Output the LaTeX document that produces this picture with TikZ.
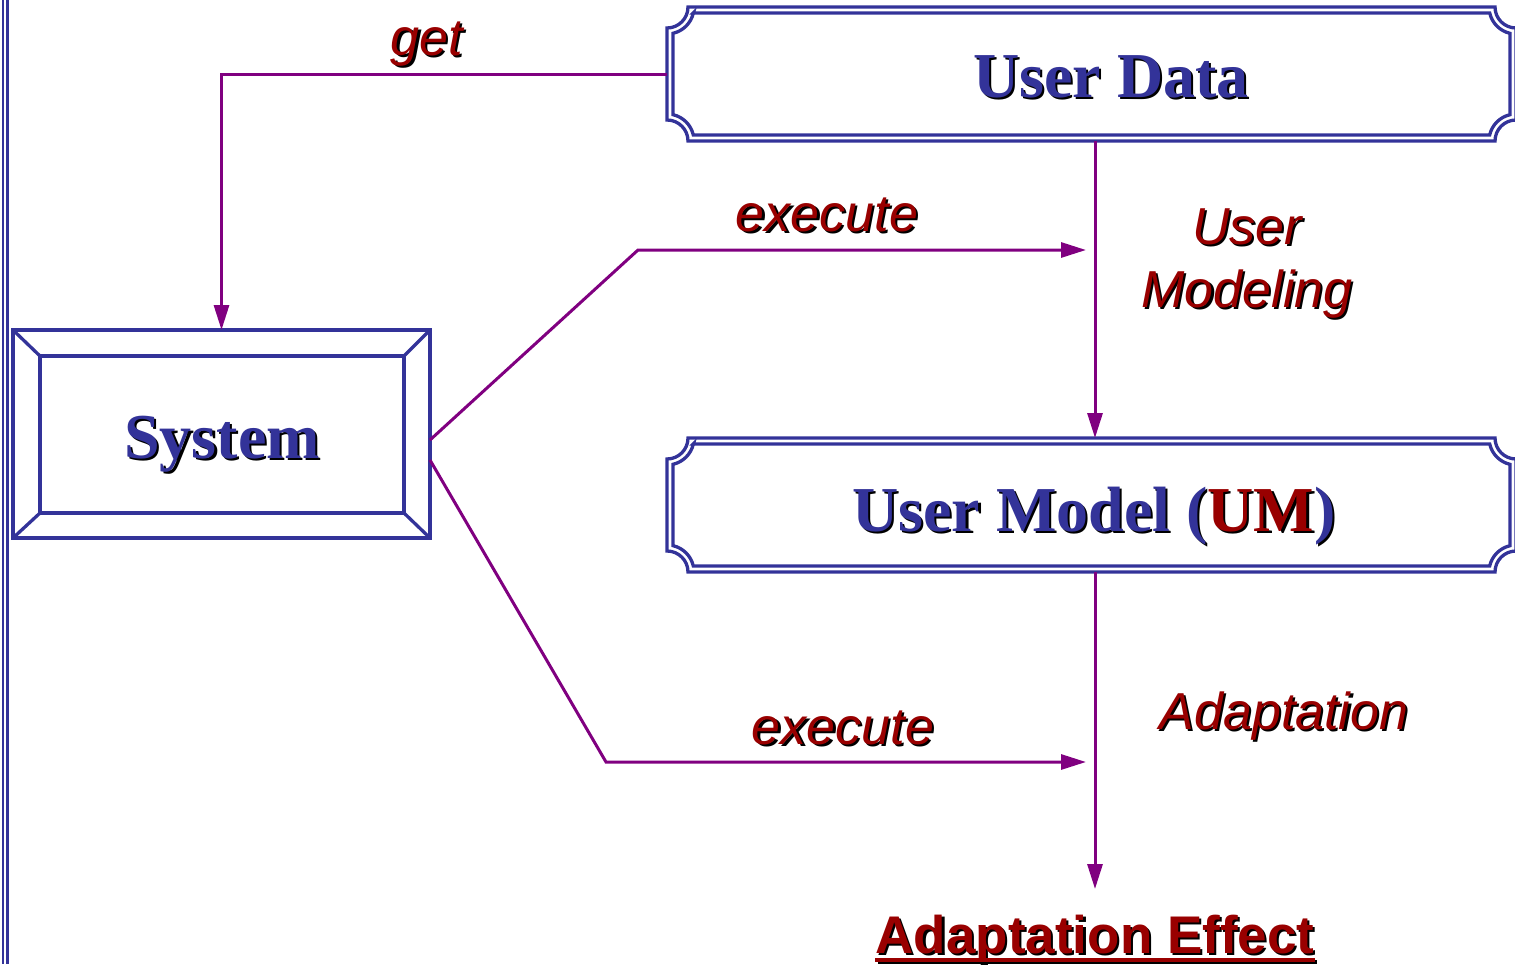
\documentclass[tikz,border=0pt]{standalone}
\usepackage{fontspec}
\newfontfamily\timesf{Liberation Serif}
\newfontfamily\arialf{Liberation Sans}
\usetikzlibrary{calc,arrows.meta}

\definecolor{ublue}{HTML}{333399}
\definecolor{ared}{HTML}{990000}
\definecolor{upurple}{HTML}{800080}

% red part of a title (kept black in the drop shadow)
\newcommand\redpart[1]{\textcolor{ared}{#1}}

% text with a black drop shadow: #1 style, #2 position, #3 name, #4 text
\newcommand\shadowed[4]{%
  \node[#1, text=black] at ($(#2)+(2.2,2.2)$) {\def\redpart##1{##1}#4};
  \node[#1] (#3) at (#2) {#4};}

% double frame with concave quarter-circle corners around node #1
\newcommand\notchframe[1]{%
  \draw[frame] ($(#1.north west)+(21,0)$) -- ($(#1.north east)+(-21,0)$)
    arc[start angle=180,end angle=90,radius=21]
    -- ($(#1.south east)+(0,-21)$)
    arc[start angle=270,end angle=180,radius=21]
    -- ($(#1.south west)+(21,0)$)
    arc[start angle=0,end angle=-90,radius=21]
    -- ($(#1.north west)+(0,21)$)
    arc[start angle=90,end angle=0,radius=21] -- cycle;
  \draw[frame] ($(#1.north west)+(26.3,6)$) -- ($(#1.north east)+(-26.3,6)$)
    arc[start angle=167.2,end angle=102.8,radius=27]
    -- ($(#1.south east)+(-6,-26.3)$)
    arc[start angle=257.2,end angle=192.8,radius=27]
    -- ($(#1.south west)+(26.3,-6)$)
    arc[start angle=-12.8,end angle=-77.2,radius=27]
    -- ($(#1.north west)+(6,26.3)$)
    arc[start angle=77.2,end angle=12.8,radius=27] -- cycle;}

\tikzset{
  frame/.style={draw=ublue, line width=3.3pt},
  boxarea/.style={draw=none, inner sep=0pt, outer sep=0pt},
  title/.style={font=\timesf\bfseries\fontsize{64}{64}\selectfont, text=ublue,
    anchor=base, inner sep=0pt},
  lbl/.style={font=\arialf\itshape\fontsize{52}{52}\selectfont, text=ared,
    anchor=base, inner sep=0pt},
  effect/.style={font=\arialf\bfseries\fontsize{53}{53}\selectfont, text=ared,
    anchor=base, inner sep=0pt},
  conn/.style={draw=upurple, line width=3pt},
  arr/.style={conn, -{Triangle[length=25pt,width=15pt]}},
}

\begin{document}
\begin{tikzpicture}[x=1pt,y=-1pt]
  \useasboundingbox (0,0) rectangle (1515,964);

  % double rule along the left edge
  \draw[ublue, line width=2.2pt] (3,0) -- (3,964);
  \draw[ublue, line width=2.2pt] (7.5,0) -- (7.5,964);

  % box areas
  \node[boxarea, minimum width=849pt, minimum height=134pt] (ud) at (1091.5,74) {};
  \node[boxarea, minimum width=849pt, minimum height=134pt] (um) at (1091.5,505) {};
  \node[boxarea, minimum width=417pt, minimum height=208pt] (sys) at (221.5,434) {};
  \coordinate (axis) at (1095,0);

  % frames
  \notchframe{ud}
  \notchframe{um}
  \draw[frame] (sys.north west) rectangle (sys.south east);
  \draw[frame] ($(sys.north west)+(27,26)$) rectangle ($(sys.south east)+(-26,-25)$);
  \draw[frame] (sys.north west) -- ($(sys.north west)+(27,26)$);
  \draw[frame] (sys.north east) -- ($(sys.north east)+(-26,26)$);
  \draw[frame] (sys.south west) -- ($(sys.south west)+(27,-25)$);
  \draw[frame] (sys.south east) -- ($(sys.south east)+(-26,-25)$);

  % titles
  \shadowed{title}{1111,97}{udt}{User Data}
  \shadowed{title}{1094,531}{umt}{User Model (\redpart{UM})}
  \shadowed{title}{222,458}{syst}{System}

  % labels
  \shadowed{lbl}{427,55}{lget}{get}
  \shadowed{lbl}{827,231}{lex1}{execute}
  \shadowed{lbl}{843,744}{lex2}{execute}
  \shadowed{lbl}{1247,244}{lum1}{User}
  \shadowed{lbl}{1247,307}{lum2}{Modeling}
  \shadowed{lbl}{1284,729}{lad}{Adaptation}

  % result
  \shadowed{effect}{1095,953}{ae}{Adaptation Effect}
  \draw[black, line width=4pt] ($(ae.base west)+(2.2,9.2)$) -- ($(ae.base east)+(2.2,9.2)$);
  \draw[ared, line width=4pt] ($(ae.base west)+(0,7)$) -- ($(ae.base east)+(0,7)$);

  % connectors
  \coordinate (t1) at (1086,250);
  \coordinate (t2) at (1086,762);
  \coordinate (t3) at (1095,889);
  \draw[arr] (ud.west) -| (sys.north);
  \draw[arr] ($(sys.east)+(0,6)$) -- (638,250) -- (t1);
  \draw[arr] ($(sys.east)+(0,26)$) -- (606,762) -- (t2);
  \draw[arr] (ud.south -| axis) -- (um.north -| axis);
  \draw[arr] (um.south -| axis) -- (t3);
\end{tikzpicture}
\end{document}
